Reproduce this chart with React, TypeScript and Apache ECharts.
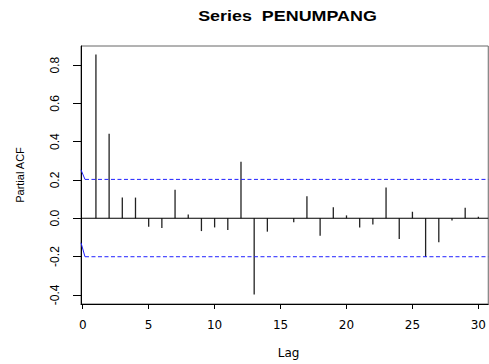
import React, { useEffect, useRef } from "react";
import * as echarts from "echarts";

const titleText = "Series  PENUMPANG";
const xName = "Lag";
const yName = "Partial ACF";
const lags = [1,2,3,4,5,6,7,8,9,10,11,12,13,14,15,16,17,18,19,20,21,22,23,24,25,26,27,28,29,30];
const pacf = [0.855, 0.442, 0.108, 0.108, -0.045, -0.051, 0.149, 0.02, -0.067, -0.048, -0.062, 0.295, -0.398, -0.07, 0.0, -0.021, 0.115, -0.091, 0.058, 0.015, -0.048, -0.033, 0.161, -0.108, 0.034, -0.202, -0.125, -0.012, 0.055, 0.008];
const ciUpper = 0.203;
const ciLower = -0.201;
const ciUpperStart = 0.253;
const ciLowerStart = -0.128;
const ciBendLag = 0.17;
const xTicks = [0, 5, 10, 15, 20, 25, 30];
const yTicks = [-0.4, -0.2, 0.0, 0.2, 0.4, 0.6, 0.8];
const xMin = -0.132;
const xMax = 30.75;
const yMin = -0.448;
const yMax = 0.9;

export default function App() {
  const ref = useRef<HTMLDivElement>(null);
  useEffect(() => {
    if (!ref.current) return;
    const chart = echarts.init(ref.current, null, { renderer: "svg" });
    const spikeData = lags.map((l, i) => [l, pacf[i]]);
    chart.setOption({
      animation: false,
      backgroundColor: "#ffffff",
      graphic: [
        {
          type: "text",
          x: 287.5,
          y: 16,
          scaleX: 1.28,
          style: {
            text: titleText,
            fontFamily: "Liberation Sans",
            fontWeight: "bold",
            fontSize: 14,
            fill: "#000",
            textAlign: "center",
            textVerticalAlign: "middle",
          },
        },
      ],
      grid: {
        left: 81,
        top: 46,
        width: 409,
        height: 262,
        show: true,
        borderColor: "#666",
        borderWidth: 1,
        backgroundColor: "transparent",
      },
      xAxis: {
        type: "value",
        min: xMin,
        max: xMax,
        name: xName,
        nameLocation: "middle",
        nameGap: 43,
        nameTextStyle: {
          fontFamily: "DejaVu Sans",
          fontSize: 12,
          color: "#000",
          padding: [0, 0, 0, 8],
        },
        splitLine: { show: false },
        axisLine: { show: true, onZero: false, lineStyle: { color: "#000", width: 1 } },
        axisTick: { show: true, length: 5, customValues: xTicks, lineStyle: { color: "#000" } },
        axisLabel: {
          customValues: xTicks,
          margin: 15,
          fontFamily: "DejaVu Sans",
          fontSize: 12,
          color: "#000",
          formatter: (v: number) => String(v),
        },
      },
      yAxis: {
        type: "value",
        min: yMin,
        max: yMax,
        name: yName,
        nameLocation: "middle",
        nameGap: 56,
        nameRotate: 90,
        nameTextStyle: {
          fontFamily: "Liberation Sans",
          fontSize: 11,
          color: "#000",
        },
        splitLine: { show: false },
        axisLine: { show: true, onZero: false, lineStyle: { color: "#000", width: 1 } },
        axisTick: { show: true, length: 8, customValues: yTicks, lineStyle: { color: "#000" } },
        axisLabel: {
          customValues: yTicks,
          rotate: 90,
          margin: 20,
          fontFamily: "Liberation Sans",
          fontSize: 12,
          color: "#000",
          formatter: (v: number) => v.toFixed(1),
        },
      },
      series: [
        {
          type: "line",
          data: [[xMin, 0], [xMax, 0]],
          symbol: "none",
          lineStyle: { color: "#000", width: 1 },
          silent: true,
        },
        {
          type: "line",
          data: [[xMin, ciUpperStart], [ciBendLag, ciUpper]],
          symbol: "none",
          lineStyle: { color: "#2020ff", width: 1 },
        },
        {
          type: "line",
          data: [[ciBendLag, ciUpper], [xMax, ciUpper]],
          symbol: "none",
          lineStyle: { color: "#2020ff", width: 1, type: [4, 2.5] },
        },
        {
          type: "line",
          data: [[xMin, ciLowerStart], [ciBendLag, ciLower]],
          symbol: "none",
          lineStyle: { color: "#2020ff", width: 1 },
        },
        {
          type: "line",
          data: [[ciBendLag, ciLower], [xMax, ciLower]],
          symbol: "none",
          lineStyle: { color: "#2020ff", width: 1, type: [4, 2.5] },
        },
        {
          type: "custom",
          data: spikeData,
          encode: { x: 0, y: 1 },
          renderItem: (params: any, api: any) => {
            const x = api.value(0);
            const v = api.value(1);
            const p0 = api.coord([x, 0]);
            const p1 = api.coord([x, v]);
            return {
              type: "line",
              shape: { x1: p0[0], y1: p0[1], x2: p1[0], y2: p1[1] },
              style: { stroke: "#222", lineWidth: 1.3 },
            };
          },
        },
      ],
    });
    return () => chart.dispose();
  }, []);
  return (
    <div
      ref={ref}
      style={{ position: "fixed", left: 0, top: 0, width: 489, height: 364, background: "#fff" }}
    />
  );
}
